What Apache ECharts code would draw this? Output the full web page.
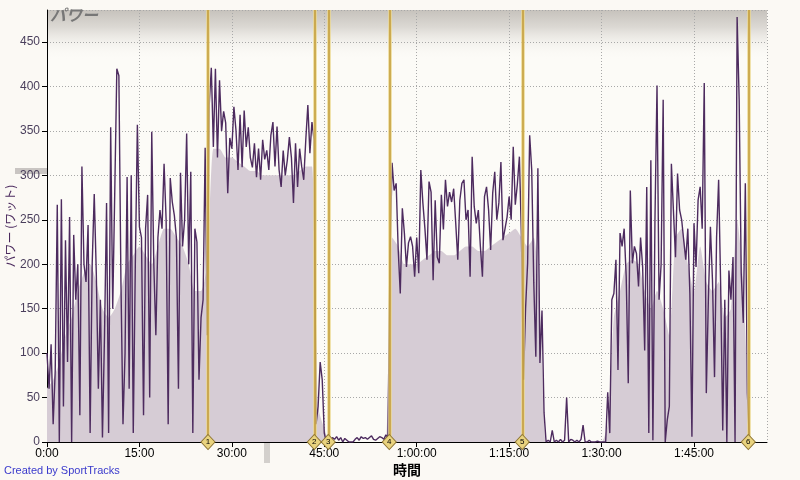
<!DOCTYPE html>
<html><head><meta charset="utf-8">
<script src="https://cdn.jsdelivr.net/npm/echarts@6/dist/echarts.min.js"></script>
<style>html,body{margin:0;padding:0;background:#fbf9f4;}#c{width:800px;height:480px;}</style>
</head><body><div id="c"></div>
<script>
// sample interval (seconds) of raw power data
const sampleStep = 20;
const power = [
100,60,110,20,80,267,0,273,40,227,
90,253,0,233,160,200,30,310,200,180,
244,10,200,279,190,60,160,5,120,269,
10,354,150,283,420,412,180,20,100,298,
60,300,10,200,357,242,230,30,240,278,
50,349,200,120,230,261,240,313,250,20,
297,270,255,230,60,303,220,250,347,200,
304,10,240,225,70,140,160,331,120,
380,421,332,420,320,407,350,372,359,280,
342,330,377,351,306,368,309,373,332,354,
320,309,336,298,330,295,340,318,328,306,
345,360,310,355,306,287,328,300,317,343,
320,269,336,287,330,310,295,340,379,325,
360,340,
20,40,90,70,10,0,0,0,5,3,
6,2,5,0,4,2,0,0,0,3,
5,2,6,4,5,3,5,7,3,2,
4,6,5,3,8,5,
208,314,283,291,216,167,263,235,197,224,
231,220,186,230,190,306,269,240,205,293,
281,182,272,208,201,278,239,295,265,281,
270,285,246,205,272,291,295,250,261,186,
321,265,246,261,220,186,276,287,261,216,
280,304,250,269,315,227,240,253,276,250,
332,267,290,321,230,
70,150,201,345,306,179,96,308,89,148,33,0,
2,0,13,0,2,0,3,0,2,50,0,3,2,0,2,0,3,19,0,0,2,0,0,0,1,0,0,0,0,56,10,
160,167,205,81,235,220,240,186,66,283,
201,220,212,175,230,197,103,287,10,317,
2,250,401,160,200,385,0,25,40,313,
260,208,302,261,250,227,205,240,167,6,
246,197,272,287,240,404,55,160,242,182,
73,230,295,175,13,160,0,193,160,208,
0,478,385,190,134,291,55,0
];
// smoothed power (one value per minute) used for the shaded area
const smoothStep = 60;
const powerSmooth = [
60,70,90,120,140,170,190,200,180,150,140,150,170,200,210,220,210,200,220,240,240,230,220,200,170,170,200,
330,330,320,320,315,310,305,305,300,300,300,300,300,300,305,310,310,
40,15,0,0,0,0,0,0,0,0,0,0,
230,220,200,200,200,205,210,215,215,210,210,215,220,220,215,215,220,225,230,235,240,
230,220,230,150,0,
0,0,0,0,0,0,0,0,0,
20,140,170,200,205,200,170,150,170,150,120,230,240,200,170,220,180,170,180,140,150,250,180,0
];
// lap markers (seconds)
const lapTimes = [1568, 2603, 2739, 3333, 4628, 6829];
const lapLabels = ['1','2','3','4','5','6'];
const xTickLabels = ['0:00','15:00','30:00','45:00','1:00:00','1:15:00','1:30:00','1:45:00'];
const xInterval = 900, xMax = 7011;
const yInterval = 50, yMax = 486;

const rawData = power.map((v,i)=>[i*sampleStep, v]);
const smoothData = powerSmooth.map((v,i)=>[i*smoothStep, v]);
const lapData = lapTimes.map((t,i)=>({value:[t,0], name:lapLabels[i]}));

const chart = echarts.init(document.getElementById('c'), null, {renderer:'canvas'});
chart.setOption({
  backgroundColor:'#fbf9f4',
  animation:false,
  textStyle:{fontFamily:'Liberation Sans, Arial, sans-serif'},
  grid:{left:47, right:33, top:10, bottom:38, show:true, backgroundColor:'#fcfbf7', borderWidth:0,
        containLabel:false, outerBoundsMode:'none'},
  graphic:[
    {type:'rect', z:0, zlevel:0, shape:{x:47,y:10,width:720,height:50},
     style:{fill:new echarts.graphic.LinearGradient(0,0,0,1,[{offset:0,color:'#c6c2bc'},{offset:0.35,color:'#dcd9d4'},{offset:1,color:'rgba(252,251,247,0)'}])}, silent:true},
    {type:'rect', shape:{x:15,y:168,width:32,height:6}, style:{fill:'#c9c5c2'}, silent:true},
    {type:'rect', shape:{x:264,y:443,width:6,height:20}, style:{fill:'#d3d0cc'}, silent:true},
    {type:'text', left:50, top:7, z:100, style:{text:'パワー', fill:'#777777', font:'italic bold 16px "Noto Sans CJK JP", sans-serif'}},
    {type:'text', left:4, top:465, style:{text:'Created by SportTracks', fill:'#3a3acc', font:'11px "Liberation Sans", Arial, sans-serif'}}
  ],
  xAxis:{
    type:'value', min:0, max:xMax, interval:xInterval,
    name:'時間', nameLocation:'middle', nameGap:21, nameMoveOverlap:false,
    nameTextStyle:{color:'#000', fontWeight:'bold', fontSize:14, fontFamily:'"Noto Sans CJK JP", sans-serif'},
    axisLine:{show:true, onZero:false, lineStyle:{color:'#000', width:1}},
    axisTick:{show:true, length:5, lineStyle:{color:'#000'}},
    axisLabel:{color:'#000', fontSize:12, margin:6, showMaxLabel:false,
      formatter:v=> (v % xInterval === 0 ? (xTickLabels[v/xInterval]||'') : '')},
    splitLine:{show:true, lineStyle:{color:'#a8a8a8', type:[1,2], width:1}}
  },
  yAxis:{
    type:'value', min:0, max:yMax, interval:yInterval,
    name:'パワー (ワット)', nameLocation:'middle', nameGap:31, nameMoveOverlap:false,
    nameTextStyle:{color:'#4b2a5e', fontSize:12, fontFamily:'"Noto Sans CJK JP", sans-serif'},
    axisLine:{show:true, lineStyle:{color:'#000', width:1}},
    axisTick:{show:true, length:5, lineStyle:{color:'#000'}},
    axisLabel:{color:'#4a3f5c', fontSize:12, margin:7, showMaxLabel:false,
      formatter:v=> (v % yInterval === 0 ? String(v) : '')},
    splitLine:{show:true, lineStyle:{color:'#a8a8a8', type:[1,2], width:1}}
  },
  series:[
    {type:'line', data:smoothData, showSymbol:false, smooth:0.2, z:2,
     lineStyle:{width:0}, areaStyle:{color:'#d6ccd5', opacity:1}, silent:true,
     markLine:{silent:true, symbol:'none', label:{show:false},
       lineStyle:{color:'rgba(235,215,140,0.7)', width:4, type:'solid'},
       data:lapTimes.map(t=>({xAxis:t}))}},
    {type:'line', data:rawData, showSymbol:false, z:3, sampling:null,
     lineStyle:{width:1.4, color:'#4d2b5f'}, silent:true,
     markLine:{silent:true, symbol:'none', label:{show:false},
       lineStyle:{color:'#c29a35', width:1.5, type:'solid'},
       data:lapTimes.map(t=>({xAxis:t}))}},
    {type:'scatter', data:lapData, symbol:'diamond', symbolSize:[14,15], z:10, clip:false,
     itemStyle:{color:'#e9d37e', borderColor:'#8c7330', borderWidth:1, opacity:1},
     label:{show:true, position:'inside', formatter:p=>p.name, fontSize:8, color:'#000'}, silent:true}
  ]
});
</script></body></html>
